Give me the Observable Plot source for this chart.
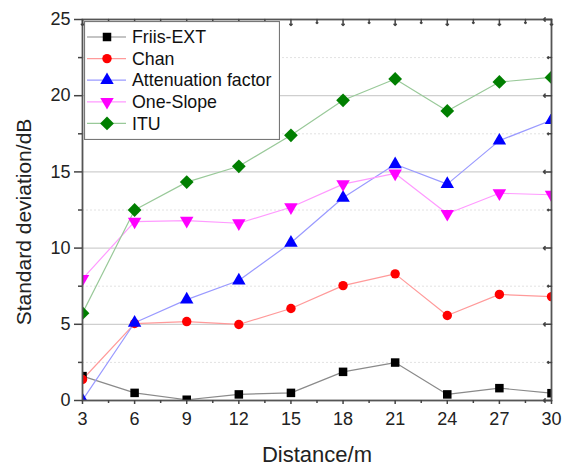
<!DOCTYPE html>
<html>
<head>
<meta charset="utf-8">
<script src="https://cdn.jsdelivr.net/npm/d3@7"></script>
<script src="https://cdn.jsdelivr.net/npm/@observablehq/plot@0.6"></script>
<style>
  body { margin: 0; background: #fff; }
  #wrap { position: relative; width: 570px; height: 466px; font-family: "Liberation Sans", Arial, sans-serif; }
  #legend { position: absolute; left: 84px; top: 21px; }
</style>
</head>
<body>
<div id="wrap"><div id="chart"></div><div id="legend"></div></div>
<script>
const distance = [3, 6, 9, 12, 15, 18, 21, 24, 27, 30];
const friisExt = [1.6, 0.5, 0.05, 0.4, 0.5, 1.88, 2.49, 0.4, 0.81, 0.48];
const chan = [1.38, 5.05, 5.18, 4.99, 6.04, 7.54, 8.31, 5.58, 6.96, 6.82];
const attenuation = [0.02, 5.1, 6.62, 7.87, 10.35, 13.3, 15.5, 14.2, 17.05, 18.4];
const oneSlope = [7.98, 11.74, 11.8, 11.63, 12.68, 14.2, 14.9, 12.25, 13.6, 13.5];
const itu = [5.73, 12.5, 14.33, 15.37, 17.4, 19.7, 21.1, 19.0, 20.9, 21.2];

const seriesNames = ["Friis-EXT", "Chan", "Attenuation factor", "One-Slope", "ITU"];
const seriesValues = [friisExt, chan, attenuation, oneSlope, itu];
const markerColors = ["#000000", "#ff0000", "#0000ff", "#ff00ff", "#007f00"];
const lineColors = ["#8a8a8a", "#ff9a9a", "#9a9aff", "#ff9aff", "#99c999"];
const symbols = ["square", "circle", "triangle", "triangle", "diamond2"];
const rotations = [0, 0, 0, 180, 0];
const radii = [4.8, 4.7, 5.0, 5.0, 6.2];

const xTicks = [3, 6, 9, 12, 15, 18, 21, 24, 27, 30];
const xMinor = [4.5, 7.5, 10.5, 13.5, 16.5, 19.5, 22.5, 25.5, 28.5];
const yTicks = [0, 5, 10, 15, 20, 25];
const yMinor = [2.5, 7.5, 12.5, 17.5, 22.5];
const yGrid = [5, 10, 15, 20];

const rows = [];
seriesNames.forEach((name, i) => {
  distance.forEach((d, j) => rows.push({series: name, idx: i, x: d, y: seriesValues[i][j]}));
});

const marks = [
  Plot.ruleY(yMinor, {stroke: "#e2e2e2", strokeDasharray: "2,2"}),
  Plot.ruleY(yGrid, {stroke: "#cfcfcf", strokeWidth: 1.2})
];
seriesNames.forEach((name, i) => {
  const data = rows.filter(r => r.idx === i);
  marks.push(Plot.line(data, {x: "x", y: "y", stroke: lineColors[i], strokeWidth: 1.2, clip: "frame"}));
});
seriesNames.forEach((name, i) => {
  const data = rows.filter(r => r.idx === i);
  marks.push(Plot.dot(data, {x: "x", y: "y", fill: markerColors[i], stroke: "none", symbol: () => symbols[i], r: radii[i], rotate: rotations[i], clip: "frame"}));
});
marks.push(
  Plot.frame({stroke: "#555", strokeWidth: 1.8}),
  Plot.axisX(xTicks, {tickSize: 4, tickPadding: 8, fontSize: 18, label: null, stroke: "#444", strokeWidth: 1.5}),
  Plot.axisX(xMinor, {tickSize: 3, text: null, label: null, stroke: "#444", strokeWidth: 1.5}),
  Plot.axisY(yTicks, {tickSize: 8, tickPadding: 4, fontSize: 18, label: null, stroke: "#444", strokeWidth: 1.5}),
  Plot.axisY(yMinor, {tickSize: 4, text: null, label: null, stroke: "#444", strokeWidth: 1.5}),
  Plot.vector(xTicks, {x: d => d, frameAnchor: "top", length: 6, rotate: 180, anchor: "start", stroke: "#444", strokeWidth: 1.5}),
  Plot.vector(xMinor, {x: d => d, frameAnchor: "top", length: 4, rotate: 180, anchor: "start", stroke: "#444", strokeWidth: 1.5}),
  Plot.vector(yTicks, {y: d => d, frameAnchor: "right", length: 8, rotate: 270, anchor: "start", stroke: "#444", strokeWidth: 1.5}),
  Plot.vector(yMinor, {y: d => d, frameAnchor: "right", length: 4, rotate: 270, anchor: "start", stroke: "#444", strokeWidth: 1.5}),
  Plot.text(["Standard deviation/dB"], {text: d => d, frameAnchor: "left", textAnchor: "middle", lineAnchor: "middle", dx: -58, dy: 12, rotate: -90, fontSize: 21, fill: "#222"}),
  Plot.text(["Distance/m"], {text: d => d, frameAnchor: "bottom", textAnchor: "middle", lineAnchor: "middle", dy: 54, fontSize: 22, fill: "#222"})
);

const chart = Plot.plot({
  width: 570,
  height: 466,
  marginLeft: 82,
  marginRight: 19,
  marginTop: 19,
  marginBottom: 66,
  x: {domain: [3, 30]},
  y: {domain: [0, 25]},
  style: {fontFamily: "'Liberation Sans', Arial, sans-serif", color: "#222", background: "white"},
  marks
});
document.getElementById("chart").appendChild(chart);

// Legend
const lw = 196, lh = 119, rowH = 21.6;
const lsvg = d3.select("#legend").append("svg").attr("width", lw).attr("height", lh);
lsvg.append("rect").attr("x", 0.5).attr("y", 0.5).attr("width", lw - 1).attr("height", lh - 1)
  .attr("fill", "white").attr("stroke", "#777").attr("stroke-width", 1.2);
const symMap = {square: d3.symbolSquare, circle: d3.symbolCircle, triangle: d3.symbolTriangle, diamond2: d3.symbolDiamond2};
seriesNames.forEach((name, i) => {
  const y = 16 + i * rowH;
  const g = lsvg.append("g");
  g.append("line").attr("x1", 3).attr("x2", 42).attr("y1", y).attr("y2", y).attr("stroke", lineColors[i]).attr("stroke-width", 1.2);
  const sz = Math.PI * radii[i] * radii[i];
  g.append("path").attr("d", d3.symbol(symMap[symbols[i]], sz)())
    .attr("transform", `translate(23,${y}) rotate(${rotations[i]})`)
    .attr("fill", markerColors[i]);
  g.append("text").attr("x", 48).attr("y", y).attr("dy", "0.35em")
    .attr("font-family", "'Liberation Sans', Arial, sans-serif").attr("font-size", 17.8).attr("fill", "#111")
    .text(name);
});
</script>
</body>
</html>
